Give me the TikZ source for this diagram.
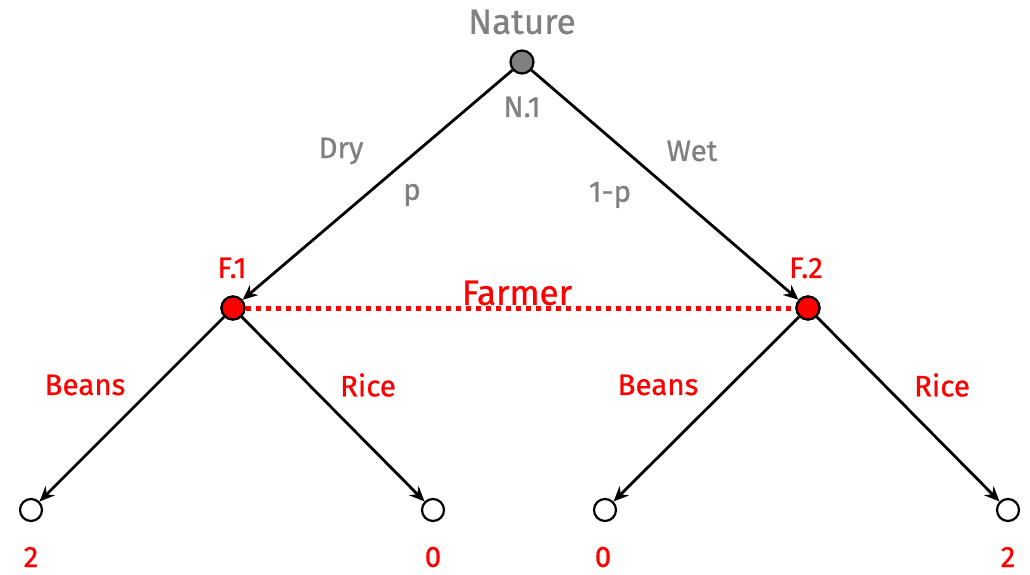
\documentclass[tikz,border=0pt]{standalone}
\usepackage{fontspec}
\setmainfont{Fira Sans}[FakeBold=0.8]
\usetikzlibrary{arrows.meta}
\definecolor{natgray}{HTML}{808080}
\definecolor{fred}{HTML}{FF0000}
\tikzset{
  dec/.style={circle,draw=black,line width=2.2pt,minimum size=23pt,inner sep=0pt},
  leaf/.style={circle,draw=black,line width=2.2pt,fill=white,minimum size=22pt,inner sep=0pt},
  edge/.style={line width=2.8pt,-{Stealth[length=15pt,width=13pt]}},
  glab/.style={text=natgray,font=\fontsize{29.5}{34}\selectfont},
  rlab/.style={text=fred,font=\fontsize{29.5}{34}\selectfont},
  biglab/.style={font=\fontsize{35}{40}\selectfont},
}
\begin{document}
\begin{tikzpicture}[x=1pt,y=-1pt]
\useasboundingbox (0,0) rectangle (1030,575);
\node[dec,fill=natgray] (N) at (522,62) {};
\node[dec,fill=fred] (F1) at (233,308) {};
\node[dec,fill=fred] (F2) at (808,308) {};
\node[leaf] (L1) at (31,510) {};
\node[leaf] (L2) at (433,510) {};
\node[leaf] (L3) at (605,510) {};
\node[leaf] (L4) at (1008,510) {};
\draw[fred,line width=5pt,dash pattern=on 5pt off 5pt] (F1) -- (F2);
\draw[edge] (N) -- (F1);
\draw[edge] (N) -- (F2);
\draw[edge] (F1) -- (L1);
\draw[edge] (F1) -- (L2);
\draw[edge] (F2) -- (L3);
\draw[edge] (F2) -- (L4);
\node[dec,fill=fred] at (F1) {};
\node[dec,fill=fred] at (F2) {};
\node[glab,biglab] (tNat) at (522,22) {Nature};
\node[glab] (tN1) at (522,107) {N.1};
\node[glab] (tDry) at (341,151) {Dry};
\node[glab] (tp) at (412,195) {p};
\node[glab] (tWet) at (692,151) {Wet};
\node[glab] (t1p) at (610,195) {1-p};
\node[rlab] (tF1) at (232,268) {F.1};
\node[rlab] (tF2) at (806,268) {F.2};
\node[rlab,biglab] (tFar) at (517,293) {Farmer};
\node[rlab] (tB1) at (85,385) {Beans};
\node[rlab] (tR1) at (368,385) {Rice};
\node[rlab] (tB2) at (658,385) {Beans};
\node[rlab] (tR2) at (942,385) {Rice};
\node[rlab] (p1) at (31,557) {2};
\node[rlab] (p2) at (433,557) {0};
\node[rlab] (p3) at (603,557) {0};
\node[rlab] (p4) at (1008,557) {2};
\end{tikzpicture}
\end{document}
